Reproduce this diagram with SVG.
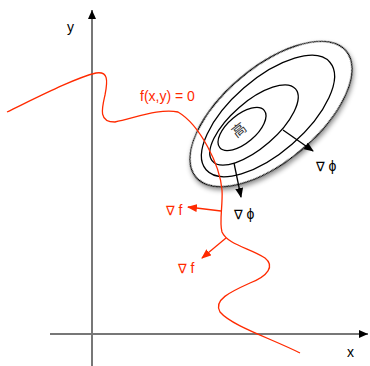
<svg xmlns="http://www.w3.org/2000/svg" width="370" height="366" viewBox="0 0 370 366">
<style>
.axis{stroke:#777;stroke-width:2;fill:none}
.ell{fill:#fff;stroke:#000;stroke-width:1.3}
.ell2{fill:none;stroke:#000;stroke-width:1.3}
.red{stroke:#ff2a00;stroke-width:1.3;fill:none}
.blk{stroke:#000;stroke-width:1.3;fill:none}
.t{font-family:"Liberation Sans",Arial,sans-serif;font-size:14px;fill:#000}
.tr{font-family:"Liberation Sans",Arial,sans-serif;font-size:14px;fill:#ff2a00}
.nb{font-family:"DejaVu Sans",sans-serif;font-size:13px}
</style>
<defs>
<marker id="ah" markerWidth="10" markerHeight="8" refX="9" refY="4" orient="auto" markerUnits="userSpaceOnUse"><path d="M0,0 L10,4 L0,8 z" fill="#000"/></marker>
<marker id="ahr" markerWidth="10" markerHeight="8" refX="9" refY="4" orient="auto" markerUnits="userSpaceOnUse"><path d="M0,0 L10,4 L0,8 z" fill="#ff2a00"/></marker>
<marker id="aax" markerWidth="9" markerHeight="8" refX="9" refY="4" orient="auto" markerUnits="userSpaceOnUse"><path d="M0,0 L9,4 L0,8 z" fill="#000"/></marker>
<filter id="sh" x="-20%" y="-20%" width="140%" height="140%"><feDropShadow dx="-1" dy="3" stdDeviation="2.5" flood-color="#000" flood-opacity="0.45"/></filter>
</defs>
<g id="axes">
<line class="axis" x1="92" y1="366" x2="92" y2="10" marker-end="url(#aax)"/>
<line class="axis" x1="50" y1="334" x2="368" y2="334" marker-end="url(#aax)"/>
<text class="t" x="67" y="32">y</text>
<text class="t" x="347" y="357">x</text>
</g>
<g id="contours">
<ellipse class="ell" filter="url(#sh)" cx="271" cy="114" rx="98" ry="47" transform="rotate(-40 271 114)"/>
<ellipse class="ell2" cx="268" cy="116" rx="82" ry="37" transform="rotate(-41 268 116)"/>
<ellipse class="ell2" cx="254" cy="125" rx="55" ry="23" transform="rotate(-41 254 125)"/>
<ellipse class="ell2" cx="242" cy="129" rx="29" ry="14" transform="rotate(-40 242 129)"/>
<text x="239" y="135" font-family="'Noto Sans CJK SC',sans-serif" font-size="14" fill="#333" text-anchor="middle" transform="rotate(-38 239 130)">高</text>
</g>
<g id="curve">
<path class="red" d="M7,112 C40,96 75,78 96,73 C108,71 108,80 105,95 C102,108 98,122 115,122 C135,118 160,108 178,112 C200,125 220,165 222,190 C223,205 219,222 222,232 C228,245 250,248 265,258 C275,266 268,276 250,283 C230,292 213,300 220,312 C232,326 270,338 300,353"/>
<text class="tr" x="140" y="101">f(x,y) = 0</text>
</g>
<g id="connectors">
<line class="blk" x1="283" y1="130" x2="313" y2="151" marker-end="url(#ah)"/>
<line class="blk" x1="234" y1="163" x2="241" y2="197" marker-end="url(#ah)"/>
<line class="red" x1="221" y1="211" x2="188" y2="207" marker-end="url(#ahr)"/>
<line class="red" x1="226" y1="238" x2="202" y2="258" marker-end="url(#ahr)"/>
</g>
<g id="labels">
<text class="t" x="316" y="171"><tspan class="nb">∇</tspan> ϕ</text>
<text class="t" x="234" y="219"><tspan class="nb">∇</tspan> ϕ</text>
<text class="tr" x="166" y="215"><tspan class="nb">∇</tspan> f</text>
<text class="tr" x="178" y="273"><tspan class="nb">∇</tspan> f</text>
</g>
</svg>
